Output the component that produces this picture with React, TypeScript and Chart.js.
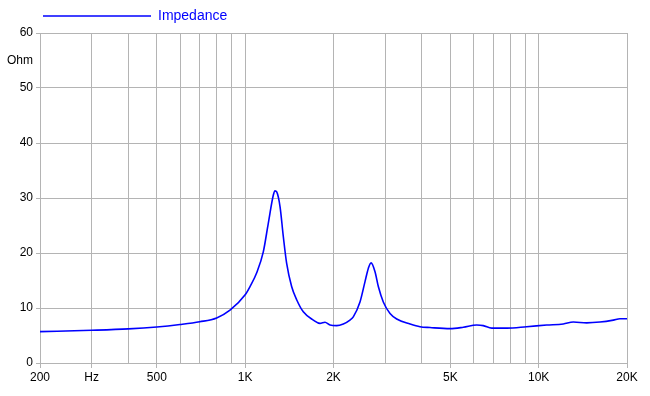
import React, { useEffect, useRef } from "react";
import { Chart, registerables } from "chart.js";

Chart.register(...registerables);

const frequencies: number[] = [
  200, 300, 400, 500, 600, 700, 800, 888, 1000, 1039, 1095, 1153, 1199, 1247,
  1264, 1281, 1315, 1349, 1385, 1440, 1498, 1578, 1707, 1799, 1871, 1946,
  2050, 2160, 2276, 2336, 2462, 2561, 2628, 2685, 2770, 2843, 2956, 3116,
  3284, 3646, 3942, 4264, 4990, 5538, 6150, 6476, 6918, 7784, 9104, 10652,
  12134, 13122, 14580, 16183, 17964, 18930, 20000,
];

const impedance: number[] = [
  5.7, 5.95, 6.2, 6.55, 7.0, 7.5, 8.2, 9.6, 12.4, 13.9, 16.4, 20.2, 25.4, 30.5,
  31.3, 31.1, 28.4, 23.0, 18.1, 13.9, 11.5, 9.3, 7.8, 7.2, 7.4, 6.9,
  6.8, 7.1, 7.8, 8.4, 11.1, 14.8, 17.2, 18.2, 16.6, 13.9, 11.1, 9.0,
  8.0, 7.1, 6.6, 6.45, 6.25, 6.5, 6.9, 6.8, 6.35, 6.35, 6.6, 6.9,
  7.1, 7.45, 7.3, 7.45, 7.8, 8.05, 8.05,
];

const xGridValues: number[] = [
  200, 300, 400, 500, 600, 700, 800, 900, 1000, 2000, 3000, 4000, 5000, 6000,
  7000, 8000, 9000, 10000, 20000,
];
const xLabelValues: number[] = [200, 300, 500, 1000, 2000, 5000, 10000, 20000];
const xLabelTexts: string[] = ["200", "Hz", "500", "1K", "2K", "5K", "10K", "20K"];

const yTickValues: number[] = [0, 10, 20, 30, 40, 50, 55, 60];
const yUnitValue = 55;
const yUnitLabel = "Ohm";

const seriesLabel = "Impedance";

const GRID = "#b4b4b4";
const LINE = "#0000ff";

export default function App() {
  const ref = useRef<HTMLCanvasElement | null>(null);

  useEffect(() => {
    document.body.style.margin = "0";
    const canvas = ref.current;
    if (!canvas) return;
    const font = { family: "'Liberation Sans', Arial, sans-serif", size: 12 };
    const chart = new Chart(canvas, {
      type: "line",
      data: {
        datasets: [
          {
            label: seriesLabel,
            data: frequencies.map((f, i) => ({ x: f, y: impedance[i] })),
            borderColor: LINE,
            backgroundColor: LINE,
            borderWidth: 1.6,
            pointRadius: 0,
            cubicInterpolationMode: "monotone",
            fill: false,
          },
        ],
      },
      options: {
        responsive: false,
        animation: false,
        layout: { padding: { top: 6, right: 23, bottom: 0, left: 0 } },
        plugins: {
          tooltip: { enabled: false },
          legend: {
            position: "top",
            align: "start",
            fullSize: false,
            labels: {
              usePointStyle: true,
              pointStyle: "line",
              pointStyleWidth: 108,
              color: LINE,
              padding: 3,
              font: { family: "'Liberation Sans', Arial, sans-serif", size: 14 },
            },
          },
        },
        scales: {
          x: {
            type: "logarithmic",
            min: 200,
            max: 20000,
            afterBuildTicks: (scale: any) => {
              scale.ticks = xGridValues.map((v) => ({ value: v }));
            },
            afterFit: (scale: any) => {
              scale.height = 33;
            },
            ticks: {
              autoSkip: false,
              maxRotation: 0,
              minRotation: 0,
              padding: 2,
              color: "#000",
              font,
              callback: (value: any) => {
                const i = xLabelValues.indexOf(Number(value));
                return i >= 0 ? xLabelTexts[i] : "";
              },
            },
            grid: {
              color: GRID,
              lineWidth: 1,
              tickLength: 5,
              tickColor: (ctx: any) =>
                ctx.tick && xLabelValues.indexOf(ctx.tick.value) >= 0 ? GRID : "rgba(0,0,0,0)",
            },
            border: { color: GRID, width: 1 },
          },
          y: {
            type: "linear",
            min: 0,
            max: 60,
            afterBuildTicks: (scale: any) => {
              scale.ticks = yTickValues.map((v) => ({ value: v }));
            },
            afterFit: (scale: any) => {
              scale.width = 40;
            },
            ticks: {
              padding: 3,
              color: "#000",
              font,
              callback: (value: any) =>
                Number(value) === yUnitValue ? yUnitLabel : String(value),
            },
            grid: {
              color: (ctx: any) =>
                ctx.tick && ctx.tick.value === yUnitValue ? "rgba(0,0,0,0)" : GRID,
              tickColor: (ctx: any) =>
                ctx.tick && ctx.tick.value === yUnitValue ? "rgba(0,0,0,0)" : GRID,
              lineWidth: 1,
              tickLength: 4,
            },
            border: { color: GRID, width: 1 },
          },
        },
      },
    } as any);
    return () => chart.destroy();
  }, []);

  return (
    <div style={{ position: "absolute", left: 0, top: 0, width: 650, height: 396, background: "#fff" }}>
      <canvas ref={ref} width={650} height={396} />
    </div>
  );
}
